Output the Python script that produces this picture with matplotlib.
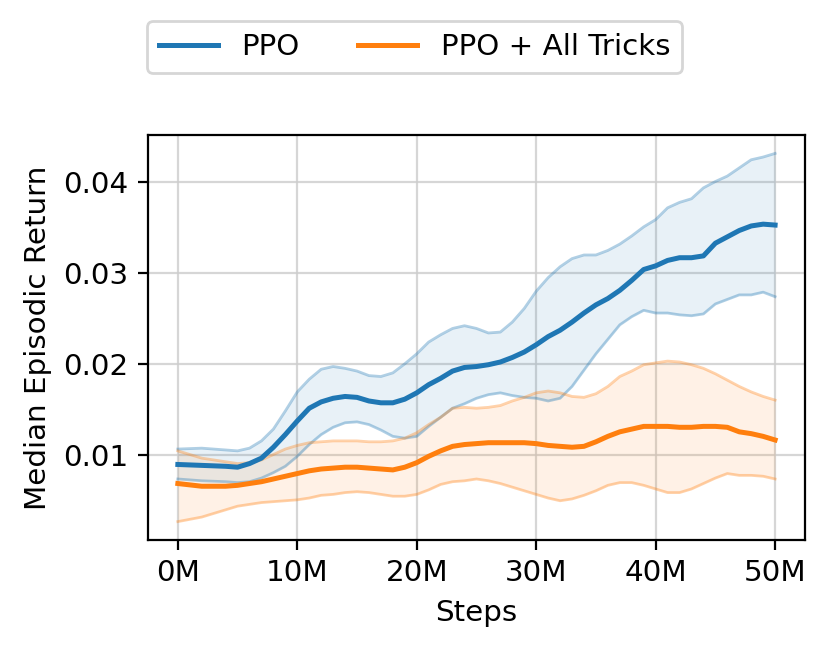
import matplotlib
matplotlib.use("Agg")
import matplotlib.pyplot as plt
from matplotlib.ticker import FuncFormatter

plt.rcParams["font.size"] = 10.6

steps_m = [0, 2, 4, 5, 6, 7, 8, 9, 10, 11, 12, 13, 14, 15, 16, 17, 18, 19, 20,
           21, 22, 23, 24, 25, 26, 27, 28, 29, 30, 31, 32, 33, 34, 35, 36, 37, 38,
           39, 40, 41, 42, 43, 44, 45, 46, 47, 48, 49, 50]

ppo_median = [0.0089, 0.0088, 0.0087, 0.0086, 0.0090, 0.0096, 0.0108, 0.0122, 0.0137,
              0.0151, 0.0158, 0.0162, 0.0164, 0.0163, 0.0159, 0.0157, 0.0157, 0.0161,
              0.0168, 0.0177, 0.0184, 0.0192, 0.0196, 0.0197, 0.0199, 0.0202, 0.0207,
              0.0213, 0.0221, 0.0230, 0.0237, 0.0246, 0.0256, 0.0265, 0.0272, 0.0281,
              0.0292, 0.0304, 0.0308, 0.0314, 0.0317, 0.0317, 0.0319, 0.0333, 0.0340,
              0.0347, 0.0352, 0.0354, 0.0353]
ppo_upper = [0.0106, 0.0107, 0.0105, 0.0104, 0.0107, 0.0115, 0.0128, 0.0148, 0.0169,
             0.0183, 0.0194, 0.0197, 0.0195, 0.0192, 0.0187, 0.0186, 0.0190, 0.0200,
             0.0211, 0.0224, 0.0232, 0.0239, 0.0242, 0.0239, 0.0234, 0.0235, 0.0246,
             0.0261, 0.0280, 0.0295, 0.0307, 0.0316, 0.0320, 0.0320, 0.0325, 0.0332,
             0.0341, 0.0351, 0.0359, 0.0372, 0.0378, 0.0382, 0.0394, 0.0401, 0.0407,
             0.0416, 0.0425, 0.0428, 0.0432]
ppo_lower = [0.0073, 0.0071, 0.0070, 0.0069, 0.0070, 0.0074, 0.0080, 0.0087, 0.0098,
             0.0111, 0.0122, 0.0130, 0.0135, 0.0136, 0.0133, 0.0127, 0.0120, 0.0118,
             0.0120, 0.0131, 0.0141, 0.0151, 0.0156, 0.0162, 0.0166, 0.0168, 0.0165,
             0.0163, 0.0162, 0.0159, 0.0162, 0.0175, 0.0193, 0.0211, 0.0227, 0.0243,
             0.0252, 0.0259, 0.0256, 0.0256, 0.0254, 0.0253, 0.0255, 0.0266, 0.0271,
             0.0276, 0.0276, 0.0279, 0.0274]

tricks_median = [0.0068, 0.0065, 0.0065, 0.0066, 0.0068, 0.0070, 0.0073, 0.0076, 0.0079,
                 0.0082, 0.0084, 0.0085, 0.0086, 0.0086, 0.0085, 0.0084, 0.0083, 0.0086,
                 0.0091, 0.0098, 0.0104, 0.0109, 0.0111, 0.0112, 0.0113, 0.0113, 0.0113,
                 0.0113, 0.0112, 0.0110, 0.0109, 0.0108, 0.0109, 0.0114, 0.0120, 0.0125,
                 0.0128, 0.0131, 0.0131, 0.0131, 0.0130, 0.0130, 0.0131, 0.0131, 0.0130,
                 0.0125, 0.0123, 0.0120, 0.0116]
tricks_upper = [0.0104, 0.0096, 0.0092, 0.0090, 0.0091, 0.0094, 0.0100, 0.0106, 0.0110,
                0.0113, 0.0114, 0.0115, 0.0115, 0.0115, 0.0114, 0.0114, 0.0115, 0.0118,
                0.0124, 0.0133, 0.0141, 0.0151, 0.0152, 0.0151, 0.0152, 0.0154, 0.0159,
                0.0163, 0.0168, 0.0170, 0.0168, 0.0164, 0.0163, 0.0167, 0.0175, 0.0186,
                0.0192, 0.0199, 0.0201, 0.0203, 0.0202, 0.0199, 0.0195, 0.0189, 0.0182,
                0.0175, 0.0169, 0.0164, 0.0160]
tricks_lower = [0.0026, 0.0031, 0.0039, 0.0043, 0.0045, 0.0047, 0.0048, 0.0049, 0.0050,
                0.0052, 0.0055, 0.0056, 0.0058, 0.0059, 0.0058, 0.0056, 0.0054, 0.0054,
                0.0056, 0.0061, 0.0067, 0.0070, 0.0071, 0.0073, 0.0071, 0.0068, 0.0064,
                0.0060, 0.0056, 0.0052, 0.0049, 0.0051, 0.0055, 0.0060, 0.0066, 0.0069,
                0.0069, 0.0066, 0.0062, 0.0058, 0.0058, 0.0062, 0.0068, 0.0074, 0.0079,
                0.0077, 0.0077, 0.0076, 0.0073]

labels = ["PPO", "PPO + All Tricks"]
colors = ["#1f77b4", "#ff7f0e"]
x_ticks = [0, 10, 20, 30, 40, 50]
y_ticks = [0.01, 0.02, 0.03, 0.04]

fig = plt.figure(figsize=(8.29 / 2, 6.5 / 2), dpi=200)
ax = fig.add_axes([0.1785, 0.1692, 0.7925, 0.6231])

series = [(ppo_median, ppo_lower, ppo_upper), (tricks_median, tricks_lower, tricks_upper)]
for (med, lo, hi), lab, c in zip(series, labels, colors):
    ax.plot(steps_m, med, color=c, lw=1.8, label=lab, zorder=3)
    ax.plot(steps_m, hi, color=c, lw=1.0, alpha=0.35, zorder=2)
    ax.plot(steps_m, lo, color=c, lw=1.0, alpha=0.35, zorder=2)
    ax.fill_between(steps_m, lo, hi, color=c, alpha=0.1, lw=0, zorder=1)

ax.set_xticks(x_ticks)
ax.xaxis.set_major_formatter(FuncFormatter(lambda v, p: f"{int(v)}M"))
ax.set_yticks(y_ticks)
ax.grid(True, color="#cccccc", lw=0.8, alpha=0.8)
ax.set_axisbelow(True)
ax.set_xlabel("Steps")
ax.set_ylabel("Median Episodic Return")

fig.legend(loc="upper center", ncol=2, bbox_to_anchor=(0.5, 0.99), frameon=True)

fig.savefig("out.png", dpi=200)
